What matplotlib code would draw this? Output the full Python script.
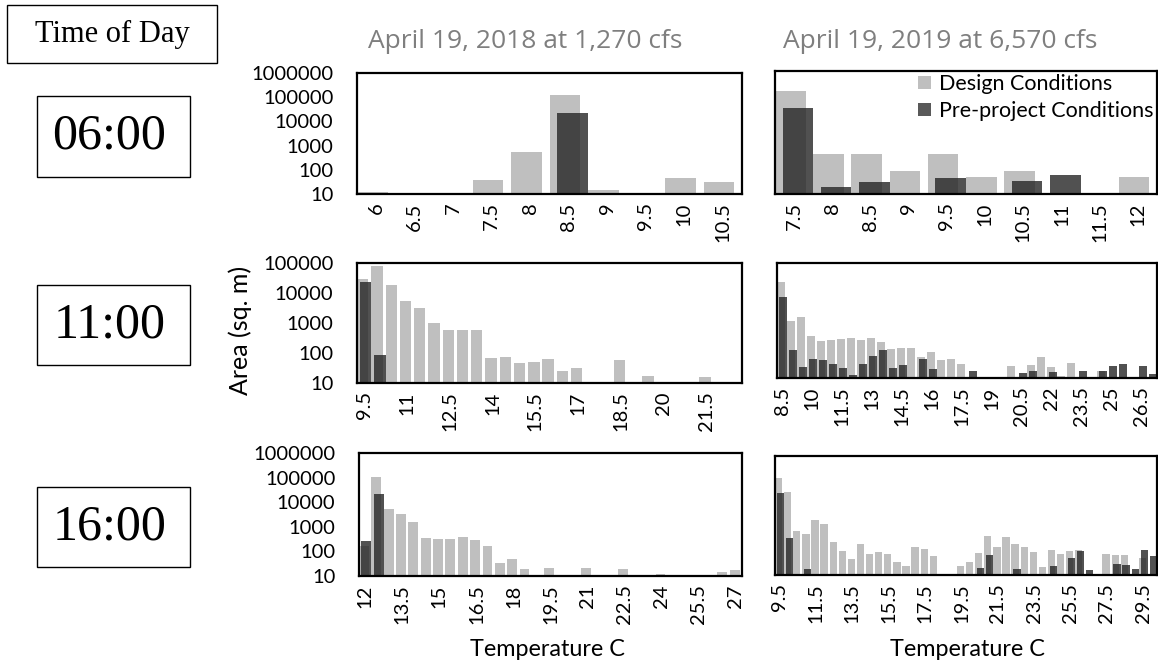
import numpy as np
import matplotlib
matplotlib.use("Agg")
import matplotlib.pyplot as plt
from matplotlib.patches import Rectangle, Patch
from matplotlib.ticker import FixedLocator, NullLocator

nan = float("nan")

# Temperature bins (deg C), one bar group per 0.5 degree bin
bins_0600_2018 = np.arange(6.0, 10.51, 0.5)
bins_0600_2019 = np.arange(7.5, 12.01, 0.5)
bins_1100_2018 = np.arange(9.5, 22.51, 0.5)
bins_1100_2019 = np.arange(8.5, 27.01, 0.5)
bins_1600_2018 = np.arange(12.0, 27.01, 0.5)
bins_1600_2019 = np.arange(9.5, 30.01, 0.5)

# Area (sq. m) per temperature bin
design_0600_2018 = [12, nan, nan, 39, 560, 120000, 15, 10.5, 44, 32]
preproj_0600_2018 = [nan, nan, nan, nan, nan, 23000, nan, nan, nan, nan]

design_0600_2019 = [155000, 435, 435, 85, 435, 47, 87, nan, nan, 47]
preproj_0600_2019 = [31500, 19, 30, nan, 45, nan, 33, 62, nan, nan]

design_1100_2018 = [30000, 78000, 18000, 5400, 3200, 1020, 600, 600, 570, 67,
                    76, 46, 51, 62, 25, 31, nan, nan, 58, nan,
                    17, nan, nan, nan, 16, nan, nan]
preproj_1100_2018 = [24000, 85] + [nan] * 25

design_1100_2019 = [21000, 930, 1300, 280, 190, 210, 230, 240, 215, 240,
                    180, 100, 110, 107, 52, 82, 41, 46, 31, nan,
                    nan, nan, nan, 26, nan, 28, 52, 24, 11.5, 32,
                    nan, nan, 17, nan, nan, nan, nan, nan]
preproj_1100_2019 = [6400, 92, 25, 45, 41, 31, 23, 13, 30, 60,
                     92, 23, 28, nan, 45, 21, nan, nan, nan, 17,
                     nan, nan, nan, nan, 15, 17, nan, 16, nan, nan,
                     18, nan, 18, 26, 30, nan, 26, 14]

design_1600_2018 = [165, 105000, 5500, 3300, 1560, 340, 330, 308, 370, 290,
                    170, 35, 48, 20, nan, 22, nan, nan, 22, nan,
                    nan, 20, nan, nan, 12, nan, nan, nan, nan, 15,
                    18]
preproj_1600_2018 = [265, 22000] + [nan] * 29

design_1600_2019 = [115000, 30000, 700, 520, 2100, 1350, 245, 102, 46, 195,
                    74, 93, 79, 34, 23, 145, 128, 65, nan, nan,
                    25, 34, 81, 435, 150, 380, 208, 150, 90, 22,
                    109, 79, 102, 115, nan, nan, 79, 67, 67, nan,
                    53, nan]
preproj_1600_2019 = [29000, 370, nan, 18, nan, nan, nan, nan, nan, nan,
                     nan, nan, nan, nan, nan, nan, nan, nan, nan, nan,
                     nan, nan, 20, 71, nan, nan, 18.5, nan, nan, nan,
                     25, nan, 53, 105, 17, nan, nan, 30, 26, 18,
                     110, 61]

times = ["06:00", "11:00", "16:00"]
titles = ["April 19, 2018 at 1,270 cfs", "April 19, 2019 at 6,570 cfs"]
series_names = ["Design Conditions", "Pre-project Conditions"]

DESIGN_COLOR = "#bfbfbf"
PRE_COLOR = "#262626"
SANS = "Lato"
SERIF = "Liberation Serif"
TICK_SIZE = 14.5

W, H = 1158, 665
fig = plt.figure(figsize=(W / 100, H / 100), dpi=100)


def px_axes(l, t, r, b):
    return fig.add_axes([l / W, 1 - b / H, (r - l) / W, (b - t) / H])


def draw_panel(ax, bins, design, pre, label_step, ymax, show_y):
    x = np.arange(len(bins))
    ax.set_yscale("log")
    ax.bar(x - 0.1, design, width=0.8, color=DESIGN_COLOR, zorder=2)
    ax.bar(x + 0.1, pre, width=0.8, color=PRE_COLOR, alpha=0.8, zorder=3)
    ax.set_xlim(-0.5, len(bins) - 0.5)
    ax.set_ylim(10, ymax)
    ticks = x[::label_step]
    ax.set_xticks(ticks)
    ax.set_xticklabels([f"{b:g}" for b in bins[::label_step]], rotation=90,
                       fontsize=TICK_SIZE, family=SANS)
    ax.tick_params(axis="x", length=0, pad=6)
    decades = [10 ** k for k in range(1, int(round(np.log10(ymax))) + 1)]
    ax.yaxis.set_major_locator(FixedLocator(decades))
    ax.yaxis.set_minor_locator(NullLocator())
    if show_y:
        ax.set_yticklabels([f"{d:d}" for d in decades], fontsize=TICK_SIZE, family=SANS)
        ax.tick_params(axis="y", length=0, pad=17)
    else:
        ax.set_yticklabels([])
        ax.tick_params(axis="y", length=0)
    for s in ax.spines.values():
        s.set_linewidth(1.6)
        s.set_color("black")
        s.set_zorder(5)


ax_tl = px_axes(357, 73, 742, 194)
ax_tr = px_axes(775, 71, 1157, 194)
ax_ml = px_axes(357, 263, 742, 383)
ax_mr = px_axes(777, 263, 1157, 378)
ax_bl = px_axes(359, 453, 742, 576)
ax_br = px_axes(775, 456, 1157, 575)

draw_panel(ax_tl, bins_0600_2018, design_0600_2018, preproj_0600_2018, 1, 1e6, True)
draw_panel(ax_tr, bins_0600_2019, design_0600_2019, preproj_0600_2019, 1, 1e6, False)
draw_panel(ax_ml, bins_1100_2018, design_1100_2018, preproj_1100_2018, 3, 1e5, True)
draw_panel(ax_mr, bins_1100_2019, design_1100_2019, preproj_1100_2019, 3, 1e5, False)
draw_panel(ax_bl, bins_1600_2018, design_1600_2018, preproj_1600_2018, 3, 1e6, True)
draw_panel(ax_br, bins_1600_2019, design_1600_2019, preproj_1600_2019, 4, 1e6, False)

# Legend
handles = [Patch(facecolor=DESIGN_COLOR, edgecolor="none"),
           Patch(facecolor="#595959", edgecolor="none")]
ax_tr.legend(handles, series_names, loc="upper right", bbox_to_anchor=(1.0, 1.0),
             frameon=False, prop={"family": SANS, "size": 15.5},
             handlelength=0.6, handleheight=0.6, handletextpad=0.4,
             labelspacing=0.32, borderaxespad=0.0, borderpad=0.15)

# Axis labels
fig.text(240 / W, 1 - 330 / H, "Area (sq. m)", rotation=90, ha="center", va="center",
         fontsize=18, family=SANS)
for cx in (548, 967):
    fig.text(cx / W, 1 - 650 / H, "Temperature C", ha="center", va="center",
             fontsize=16.8, family=SANS)

# Column titles
for cx, t in zip((525, 940), titles):
    fig.text(cx / W, 1 - 41 / H, t, ha="center", va="center", fontsize=19,
             family="Open Sans", color="#7f7f7f")

# Row labels in boxes
def boxed(l, t, r, b, text, size, dx=0):
    fig.add_artist(Rectangle((l / W, 1 - b / H), (r - l) / W, (b - t) / H,
                             transform=fig.transFigure, fill=False,
                             edgecolor="black", linewidth=1.0))
    fig.text(((l + r) / 2 + dx) / W, 1 - (t + b) / 2 / H, text, ha="center",
             va="center", fontsize=size, family=SERIF)


boxed(7, 5, 217, 63, "Time of Day", 22)
for (t, b), label in zip([(96, 177), (285, 365), (487, 567)], times):
    boxed(37, t, 190, b, label, 36, dx=-4)

fig.savefig("out.png", dpi=100)
